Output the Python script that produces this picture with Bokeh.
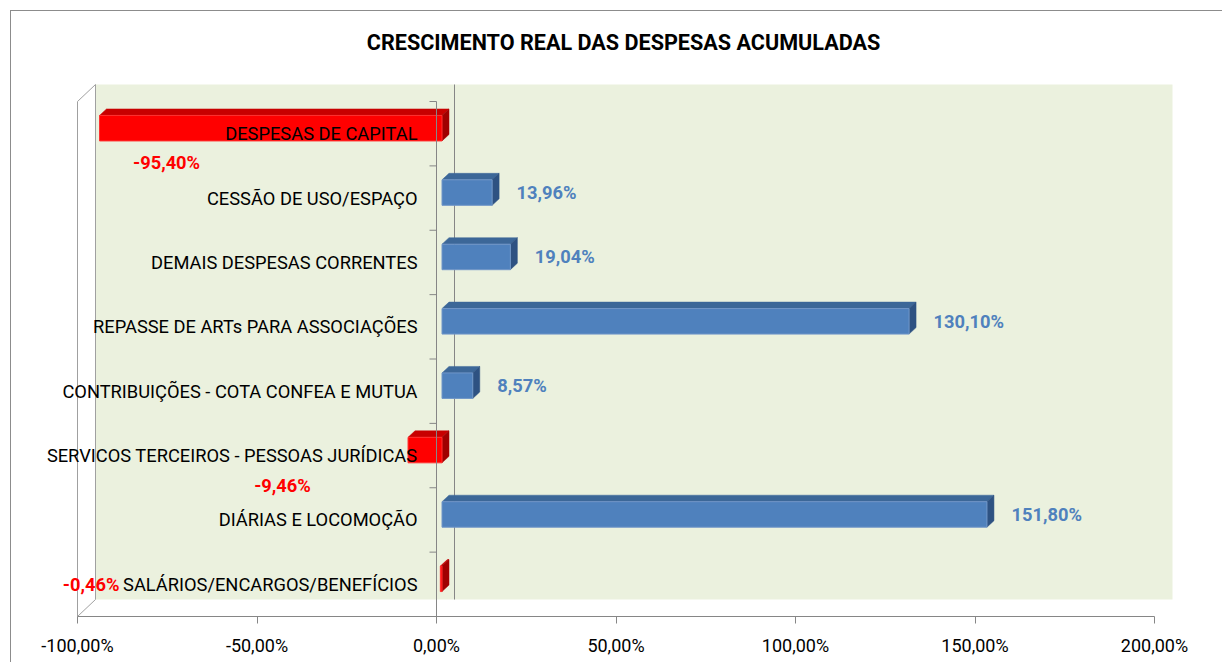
from bokeh.plotting import figure
from bokeh.models import FixedTicker, Label, Range1d
from bokeh.embed import file_html
from bokeh.resources import INLINE
from bokeh.core.properties import value

# ---------------- data ----------------
categories = [
    "DESPESAS DE CAPITAL",
    "CESSÃO DE USO/ESPAÇO",
    "DEMAIS DESPESAS CORRENTES",
    "REPASSE DE ARTs PARA ASSOCIAÇÕES",
    "CONTRIBUIÇÕES - COTA CONFEA E MUTUA",
    "SERVICOS TERCEIROS - PESSOAS JURÍDICAS",
    "DIÁRIAS E LOCOMOÇÃO",
    "SALÁRIOS/ENCARGOS/BENEFÍCIOS",
]
growth = [-95.40, 13.96, 19.04, 130.10, 8.57, -9.46, 151.80, -0.46]
value_labels = ["-95,40%", "13,96%", "19,04%", "130,10%", "8,57%", "-9,46%", "151,80%", "-0,46%"]
tick_values = [-100, -50, 0, 50, 100, 150, 200]
tick_labels = ["-100,00%", "-50,00%", "0,00%", "50,00%", "100,00%", "150,00%", "200,00%"]
chart_title = "CRESCIMENTO REAL DAS DESPESAS ACUMULADAS"

# manually placed labels of negative bars (x in %, y shift in category bands)
neg_label_place = {0: (-75.2, -0.45), 5: (-42.9, -0.465), 7: (-96.2, 0.0)}

# ---------------- layout / style ----------------
FONT_NAME = "Roboto"
FONT = value(FONT_NAME)
W, H = 1212, 652
ML, MR, MT, MB = 1, 0, 1, 47
FW, FH = W - ML - MR, H - MT - MB
ZERO_PX = 424.0      # pixel of 0% from frame left
PXU = 3.59           # px per 1 %
BAND = 64.375        # px per category band
x_start = -ZERO_PX / PXU
x_end = x_start + FW / PXU
n = len(categories)


def ux(px):
    return px / PXU


def uy(px):
    return px / BAND


WALL_DX, WALL_DY = 18, 17
BAR_DX, BAR_DY = 5.5, 5.5
BAR_H = 25.5
DEP_X, DEP_Y = 7, 6.5
GRID = "#868686"
WALL = "#EBF1DE"

p = figure(width=W, height=H, output_backend="svg", toolbar_location=None,
           x_range=Range1d(x_start, x_end), y_range=Range1d(0, FH / BAND),
           y_axis_location=None, min_border_left=ML, min_border_right=MR,
           min_border_top=MT, min_border_bottom=MB,
           styles={"border-left": "1px solid #8c8c8c", "border-top": "1px solid #8c8c8c",
                   "margin-left": "10px", "margin-top": "10px"})
p.outline_line_color = None
p.xgrid.visible = False
p.ygrid.visible = False
p.background_fill_color = "white"

# back wall
p.quad(left=[tick_values[0] + ux(WALL_DX)], right=[tick_values[-1] + ux(WALL_DX)],
       bottom=[uy(WALL_DY)], top=[n + uy(WALL_DY)], fill_color=WALL, line_color=None)
# zero line on back wall
p.segment(x0=[ux(WALL_DX)], y0=[uy(WALL_DY)], x1=[ux(WALL_DX)], y1=[n + uy(WALL_DY)],
          line_color=GRID, line_width=1)
# left side wall
lx = tick_values[0]
p.patch(x=[lx, lx, lx + ux(WALL_DX), lx + ux(WALL_DX)], y=[0, n, n + uy(WALL_DY), uy(WALL_DY)],
        fill_color="white", line_color="#A0A0A0", line_width=1)

# bars
ycen = [n - 1 - i + 0.5 for i in range(n)]
face_c = [y + uy(BAR_DY) for y in ycen]
left = [min(v, 0) + ux(BAR_DX) for v in growth]
right = [max(v, 0) + ux(BAR_DX) for v in growth]
bottom = [c - uy(BAR_H / 2) for c in face_c]
top = [c + uy(BAR_H / 2) for c in face_c]
front_col = ["#4F81BD" if v >= 0 else "#FF0000" for v in growth]
top_col = ["#3C6798" if v >= 0 else "#C80000" for v in growth]
side_col = ["#2E5282" if v >= 0 else "#A00000" for v in growth]
edge_col = ["#7096C8" if v >= 0 else "#FF3030" for v in growth]

top_xs = [[l, r, r + ux(DEP_X), l + ux(DEP_X)] for l, r in zip(left, right)]
top_ys = [[t, t, t + uy(DEP_Y), t + uy(DEP_Y)] for t in top]
side_xs = [[r, r, r + ux(DEP_X), r + ux(DEP_X)] for r in right]
side_ys = [[b, t, t + uy(DEP_Y), b + uy(DEP_Y)] for b, t in zip(bottom, top)]

p.patches(xs=top_xs, ys=top_ys, fill_color=top_col, line_color=top_col, line_width=0.5)
p.patches(xs=side_xs, ys=side_ys, fill_color=side_col, line_color=side_col, line_width=0.5)
p.quad(left=left, right=right, bottom=bottom, top=top, fill_color=front_col,
       line_color=edge_col, line_width=1)

# front vertical axis with ticks at band edges
p.segment(x0=[0], y0=[0], x1=[0], y1=[n], line_color=GRID, line_width=1)
edges = list(range(n + 1))
p.segment(x0=[0] * len(edges), y0=edges, x1=[-ux(7)] * len(edges), y1=edges,
          line_color=GRID, line_width=1)

# category labels
p.text(x=[0] * n, y=ycen, text=categories, x_offset=-19, text_align="right",
       text_baseline="middle", text_font=FONT, text_font_size="18.3px", text_color="#000000")

# value labels
pos_idx = [i for i, v in enumerate(growth) if v >= 0]
p.text(x=[growth[i] for i in pos_idx], y=[face_c[i] for i in pos_idx],
       text=[value_labels[i] for i in pos_idx], x_offset=30, text_align="left",
       text_baseline="middle", text_font=FONT, text_font_style="bold",
       text_font_size="18.3px", text_color="#4F81BD")
neg_idx = [i for i, v in enumerate(growth) if v < 0]
p.text(x=[neg_label_place[i][0] for i in neg_idx],
       y=[ycen[i] + neg_label_place[i][1] for i in neg_idx],
       text=[value_labels[i] for i in neg_idx], text_align="center",
       text_baseline="middle", text_font=FONT, text_font_style="bold",
       text_font_size="18.3px", text_color="#FF0000")

# title
p.add_layout(Label(x=52.1, y=n + uy(59), text=chart_title, text_align="center",
                   text_baseline="middle", text_font=FONT_NAME, text_font_style="bold",
                   text_font_size="21.6px", text_color="#000000"))

# x axis
ax = p.xaxis[0]
ax.bounds = (tick_values[0], tick_values[-1])
ax.ticker = FixedTicker(ticks=tick_values)
ax.major_label_overrides = {t: l for t, l in zip(tick_values, tick_labels)}
ax.axis_line_color = GRID
ax.major_tick_line_color = GRID
ax.major_tick_out = 7
ax.major_tick_in = 0
ax.minor_tick_line_color = None
ax.major_label_standoff = 11
ax.major_label_text_font = FONT_NAME
ax.major_label_text_font_size = "18px"
ax.major_label_text_color = "#000000"

open("out.html", "w").write(file_html(p, INLINE))
